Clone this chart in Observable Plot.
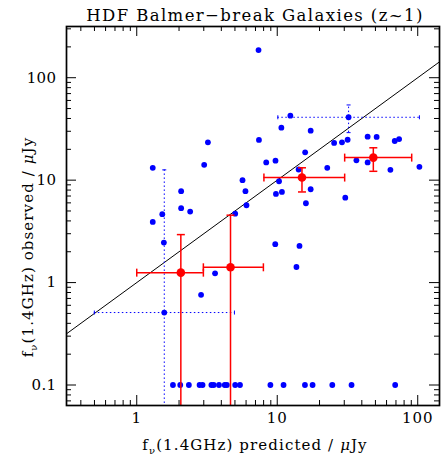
<!DOCTYPE html>
<html><head><meta charset="utf-8">
<script src="https://cdn.jsdelivr.net/npm/d3@7"></script>
<script src="https://cdn.jsdelivr.net/npm/@observablehq/plot@0.6"></script>
<style>body{margin:0;background:#fff} svg{display:block}</style>
</head><body><div id="chart"></div>
<script>
// Detected galaxies (predicted, observed) in microJy
const detX = [7.36, 3.21, 1.30, 3.02, 7.41, 5.66, 5.94, 2.07, 6.04, 2.07, 2.40, 1.52, 5.02, 1.30, 1.56, 3.61, 2.87, 1.57,
  16.0, 9.68, 14.4, 13.7, 12.4, 32.2, 10.7, 17.3, 44.0, 51.0, 68.6, 73.7, 25.4, 28.9, 31.7, 15.8, 8.35, 9.72, 14.2, 22.7,
  36.6, 44.0, 63.9, 102.8, 10.3, 9.79, 10.8, 17.3, 30.5];
const detY = [186, 23.4, 13.2, 14.1, 24.7, 10.0, 7.8, 7.8, 5.69, 5.32, 4.93, 4.65, 4.71, 3.91, 2.46, 1.23, 0.76, 0.51,
  5.95, 2.37, 2.28, 1.42, 42.6, 41.1, 32.5, 30.4, 26.6, 26.4, 24.1, 25.2, 23.1, 23.4, 24.8, 18.7, 14.9, 15.5, 12.7, 13.2,
  15.6, 14.9, 12.6, 13.5, 9.76, 7.33, 7.67, 8.15, 6.75];
// Non-detections plotted at 0.1 microJy
const limX = [1.81, 2.04, 2.35, 2.80, 2.94, 3.40, 3.53, 3.85, 4.23, 4.38, 5.02, 5.43, 8.94, 11.09, 15.75, 17.85, 24.66, 33.8, 69.1];
const limY = [0.1, 0.1, 0.1, 0.1, 0.1, 0.1, 0.1, 0.1, 0.1, 0.1, 0.1, 0.1, 0.1, 0.1, 0.1, 0.1, 0.1, 0.1, 0.1];
// Individual error bars (dotted)
const errX = [1.57, 32.2];
const errY = [0.51, 41.1];
const errXlo = [0.499, 10.1];
const errXhi = [4.96, 102.8];
const errYlo = [0.01, 29.1];
const errYhi = [12.6, 54.2];
// Binned means (red)
const binX = [2.06, 4.65, 15.0, 48.3];
const binY = [1.25, 1.41, 10.6, 16.6];
const binXlo = [1.0, 2.98, 8.04, 30.2];
const binXhi = [2.98, 7.97, 30.2, 90.6];
const binYlo = [0.01, 0.01, 7.67, 12.2];
const binYhi = [2.94, 4.55, 13.2, 20.7];
// One-to-one relation and ticks
const oneToOne = [0.01, 1000];
const xMajor = [1, 10, 100];
const xMinor = [0.4,0.5,0.6,0.7,0.8,0.9, 2,3,4,5,6,7,8,9, 20,30,40,50,60,70,80,90];
const yMajor = [0.1, 1, 10, 100];
const yMinor = [0.07,0.08,0.09, 0.2,0.3,0.4,0.5,0.6,0.7,0.8,0.9, 2,3,4,5,6,7,8,9, 20,30,40,50,60,70,80,90, 200,300];

const det = detX.map((x, i) => ({x, y: detY[i]}));
const lim = limX.map((x, i) => ({x, y: limY[i]}));
const err = errX.map((x, i) => ({x, y: errY[i], xlo: errXlo[i], xhi: errXhi[i], ylo: errYlo[i], yhi: errYhi[i]}));
const bin = binX.map((x, i) => ({x, y: binY[i], xlo: binXlo[i], xhi: binXhi[i], ylo: binYlo[i], yhi: binYhi[i]}));

const W = 443, H = 458, ML = 66, MR = 4, MT = 26, MB = 53;
const PW = W - ML - MR, PH = H - MT - MB;
const vbar = (len) => ({draw(ctx) { ctx.moveTo(0, -len / 2); ctx.lineTo(0, len / 2); }});
const hbar = (len) => ({draw(ctx) { ctx.moveTo(-len / 2, 0); ctx.lineTo(len / 2, 0); }});
const FONT = "DejaVu Serif";

const chart = Plot.plot({
  width: W, height: H,
  marginLeft: ML, marginRight: MR, marginTop: MT, marginBottom: MB,
  x: {type: "log", domain: [Math.pow(10, -0.5), Math.pow(10, 2.155)]},
  y: {type: "log", domain: [Math.pow(10, -1.2), Math.pow(10, 2.5)]},
  style: {fontFamily: FONT, fontSize: "15px", color: "black", background: "white"},
  marks: [
    Plot.line(oneToOne, {x: d => d, y: d => d, stroke: "black", strokeWidth: 1, clip: true}),
    // dotted individual error bars
    Plot.ruleY(err, {y: "y", x1: "xlo", x2: "xhi", stroke: "blue", strokeWidth: 1, strokeDasharray: "1.5,2.5", clip: true}),
    Plot.ruleX(err, {x: "x", y1: "ylo", y2: "yhi", stroke: "blue", strokeWidth: 1, strokeDasharray: "1.5,2.5", clip: true}),
    Plot.dot(err, {x: "xlo", y: "y", symbol: vbar(4), r: 3, stroke: "blue", fill: "none", strokeWidth: 1, clip: true}),
    Plot.dot(err, {x: "xhi", y: "y", symbol: vbar(4), r: 3, stroke: "blue", fill: "none", strokeWidth: 1, clip: true}),
    Plot.dot(err, {x: "x", y: "ylo", symbol: hbar(4), r: 3, stroke: "blue", fill: "none", strokeWidth: 1, clip: true}),
    Plot.dot(err, {x: "x", y: "yhi", symbol: hbar(4), r: 3, stroke: "blue", fill: "none", strokeWidth: 1, clip: true}),
    // galaxies
    Plot.dot(det, {x: "x", y: "y", r: 2.9, fill: "blue", stroke: "none"}),
    Plot.dot(lim, {x: "x", y: "y", r: 2.9, fill: "blue", stroke: "none"}),
    // binned means
    Plot.ruleY(bin, {y: "y", x1: "xlo", x2: "xhi", stroke: "red", strokeWidth: 1.5, clip: true}),
    Plot.ruleX(bin, {x: "x", y1: "ylo", y2: "yhi", stroke: "red", strokeWidth: 1.5, clip: true}),
    Plot.dot(bin, {x: "xlo", y: "y", symbol: vbar(8), r: 4, stroke: "red", fill: "none", strokeWidth: 1.5, clip: true}),
    Plot.dot(bin, {x: "xhi", y: "y", symbol: vbar(8), r: 4, stroke: "red", fill: "none", strokeWidth: 1.5, clip: true}),
    Plot.dot(bin, {x: "x", y: "ylo", symbol: hbar(8), r: 4, stroke: "red", fill: "none", strokeWidth: 1.5, clip: true}),
    Plot.dot(bin, {x: "x", y: "yhi", symbol: hbar(8), r: 4, stroke: "red", fill: "none", strokeWidth: 1.5, clip: true}),
    Plot.dot(bin, {x: "x", y: "y", r: 4.3, fill: "red", stroke: "none"}),
    // inward ticks on all four sides
    Plot.tickX(xMajor, {x: d => d, insetTop: PH - 10, stroke: "black", strokeWidth: 1}),
    Plot.tickX(xMajor, {x: d => d, insetBottom: PH - 10, stroke: "black", strokeWidth: 1}),
    Plot.tickX(xMinor, {x: d => d, insetTop: PH - 5, stroke: "black", strokeWidth: 1}),
    Plot.tickX(xMinor, {x: d => d, insetBottom: PH - 5, stroke: "black", strokeWidth: 1}),
    Plot.tickY(yMajor, {y: d => d, insetRight: PW - 10, stroke: "black", strokeWidth: 1}),
    Plot.tickY(yMajor, {y: d => d, insetLeft: PW - 10, stroke: "black", strokeWidth: 1}),
    Plot.tickY(yMinor, {y: d => d, insetRight: PW - 5, stroke: "black", strokeWidth: 1}),
    Plot.tickY(yMinor, {y: d => d, insetLeft: PW - 5, stroke: "black", strokeWidth: 1}),
    // tick labels
    Plot.axisX({ticks: xMajor, tickSize: 0, tickPadding: 7, tickFormat: d => String(d), label: null, fontSize: 15}),
    Plot.axisY({ticks: yMajor, tickSize: 0, tickPadding: 10, tickFormat: d => String(d), label: null, fontSize: 15}),
    Plot.frame({stroke: "black", strokeWidth: 1.7})
  ]
});

const svg = d3.select(chart);
svg.selectAll('[aria-label="x-axis tick label"] text').attr("letter-spacing", 1);
svg.selectAll('[aria-label="y-axis tick label"] text').attr("letter-spacing", 0.4);
svg.append("text")
  .attr("x", 255).attr("y", 21).attr("text-anchor", "middle")
  .attr("font-family", FONT).attr("font-size", 16.5).attr("letter-spacing", 1.4).attr("fill", "black")
  .text("HDF Balmer\u2212break Galaxies (z~1)");

function axisLabel(sel, word) {
  sel.attr("font-family", FONT).attr("font-size", 15).attr("letter-spacing", 1.1).attr("fill", "black").attr("text-anchor", "middle");
  sel.append("tspan").text("f");
  sel.append("tspan").attr("font-size", 10).attr("dy", 4).text("\u03bd");
  sel.append("tspan").attr("dy", -4).text("(1.4GHz) " + word + " / ");
  sel.append("tspan").attr("font-style", "italic").text("\u03bc");
  sel.append("tspan").text("Jy");
}
axisLabel(svg.append("text").attr("x", 255).attr("y", 450), "predicted");
axisLabel(svg.append("text").attr("transform", "translate(33,247) rotate(-90)"), "observed");

document.getElementById("chart").appendChild(chart);
</script></body></html>
